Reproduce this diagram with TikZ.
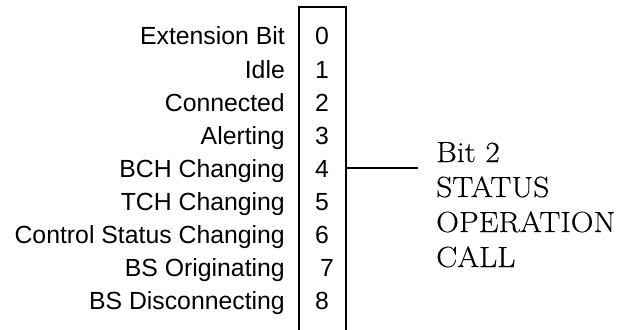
\documentclass[tikz,border=0pt]{standalone}
\usepackage{fontspec}
\newfontfamily\labelfont{Liberation Sans}
\newfontfamily\callfont[FakeBold=0.35,FakeStretch=1.08]{Latin Modern Roman}
\begin{document}
\begin{tikzpicture}[x=1pt,y=-1pt,
  bitlabel/.style={anchor=base east,inner sep=0pt,font=\labelfont\fontsize{24.8}{29}\selectfont},
  bitnum/.style={anchor=base,inner sep=0pt,font=\labelfont\fontsize{24.8}{29}\selectfont},
  calltext/.style={anchor=base west,inner sep=0pt,font=\callfont\fontsize{29.2}{35}\selectfont},
  rule/.style={line width=1.6pt,line cap=rect}]
\useasboundingbox (0,0) rectangle (636,329);

% bit descriptions and bit numbers, one row each
\foreach \i/\txt in {0/Extension Bit,1/Idle,2/Connected,3/Alerting,4/BCH Changing,
                     5/TCH Changing,6/Control Status Changing,7/BS Originating,8/BS Disconnecting}{
  \node[bitlabel] (lab\i) at (285,45+33*\i) {\txt};
}
\foreach \i in {0,...,8}{
  \pgfmathsetmacro{\nx}{ifthenelse(\i==7,327,322)}
  \node[bitnum] (num\i) at (\nx,45+33*\i) {\i};
}

% open-bottom box round the bit numbers
\coordinate (boxbl) at (299,329);
\coordinate (boxtl) at (299,7);
\coordinate (boxtr) at (346,7);
\coordinate (boxbr) at (346,329);
\draw[rule] (boxbl) -- (boxtl) -- (boxtr) -- (boxbr);

% callout for bit 2
\coordinate (tap) at (346,168);
\coordinate (tip) at (418,168);
\draw[rule,line cap=butt] (tap) -- (tip);
\node[calltext] (c1) at (436,162) {Bit 2};
\node[calltext] (c2) at (436,197) {STATUS};
\node[calltext] (c3) at (436,232) {OPERATION};
\node[calltext] (c4) at (436,267) {CALL};
\end{tikzpicture}
\end{document}
